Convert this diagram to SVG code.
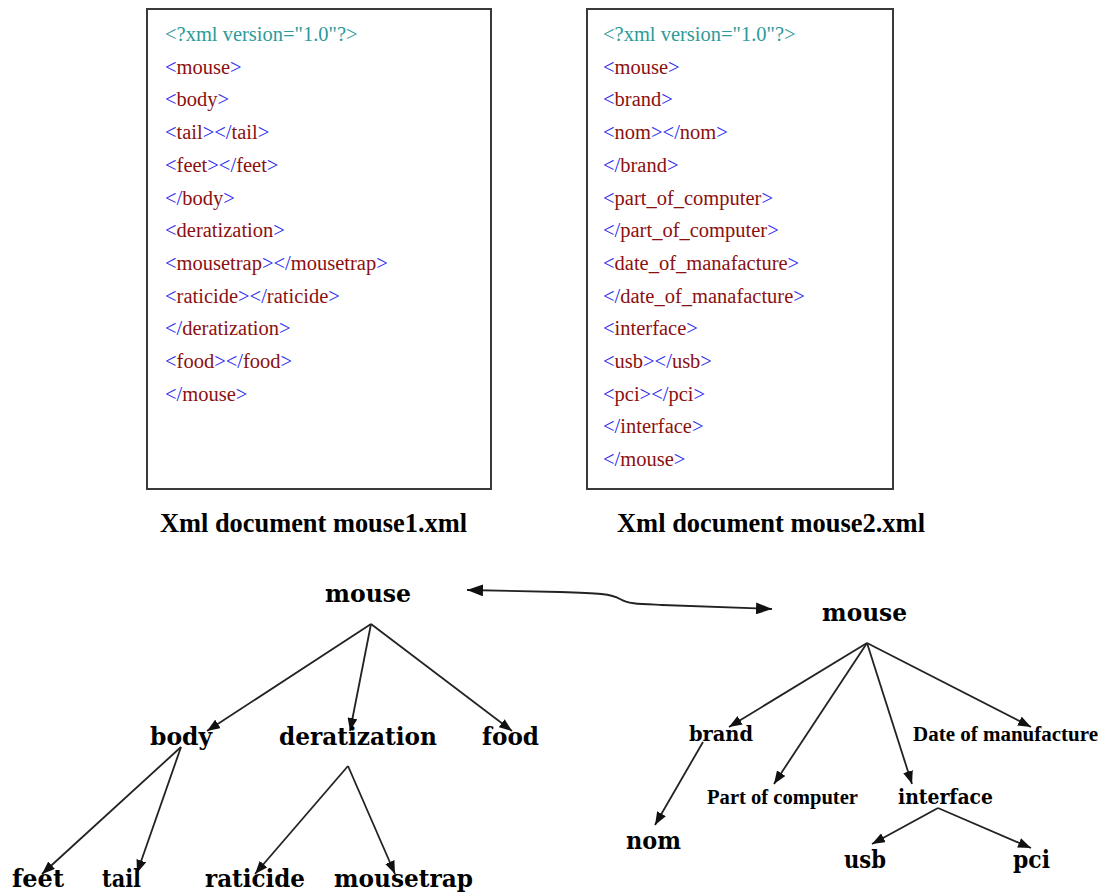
<svg xmlns="http://www.w3.org/2000/svg" width="1101" height="893" viewBox="0 0 1101 893">
  <style>
    .doc { fill: #ffffff; stroke: #3a3a3a; stroke-width: 2; }
    .code { font-family: "Liberation Serif", "Times New Roman", serif; font-size: 20.5px; }
    .decl { fill: #2e9a9a; }
    .b { fill: #2828f0; }
    .r { fill: #8b1010; }
    .cap { font-family: "Liberation Serif", "Times New Roman", serif; font-weight: bold; font-size: 28px; fill: #000; }
    .lbl { font-family: "DejaVu Serif", "Liberation Serif", serif; font-weight: bold; font-size: 24px; fill: #000; }
    .lbl-s { font-family: "DejaVu Serif", "Liberation Serif", serif; font-weight: bold; font-size: 21px; fill: #000; }
    .lbl-n { font-family: "Liberation Serif", "Times New Roman", serif; font-weight: bold; font-size: 20px; fill: #000; }
    .edge { fill: none; stroke: #222; stroke-width: 1.8; marker-end: url(#head); }
    .link { fill: none; stroke: #222; stroke-width: 1.8; marker-start: url(#bighead); marker-end: url(#bighead); }
  </style>
  <defs>
    <marker id="head" markerUnits="userSpaceOnUse" markerWidth="14" markerHeight="10" refX="13" refY="5" orient="auto">
      <path d="M0,0 L13,5 L0,10 z" fill="#111"/>
    </marker>
    <marker id="bighead" markerUnits="userSpaceOnUse" markerWidth="17" markerHeight="12" refX="16" refY="6" orient="auto-start-reverse">
      <path d="M0,0 L16,6 L0,12 z" fill="#111"/>
    </marker>
  </defs>

  <rect width="1101" height="893" fill="#ffffff"/>

  <!-- document mouse1.xml -->
  <g id="doc-mouse1">
    <rect class="doc" x="147" y="9" width="344" height="480"/>
    <g class="code">
      <text x="165" y="41" class="decl">&lt;?xml version="1.0"?&gt;</text>
      <text x="165" y="73.7"><tspan class="b">&lt;</tspan><tspan class="r">mouse</tspan><tspan class="b">&gt;</tspan></text>
      <text x="165" y="106.4"><tspan class="b">&lt;</tspan><tspan class="r">body</tspan><tspan class="b">&gt;</tspan></text>
      <text x="165" y="139.1"><tspan class="b">&lt;</tspan><tspan class="r">tail</tspan><tspan class="b">&gt;&lt;/</tspan><tspan class="r">tail</tspan><tspan class="b">&gt;</tspan></text>
      <text x="165" y="171.8"><tspan class="b">&lt;</tspan><tspan class="r">feet</tspan><tspan class="b">&gt;&lt;/</tspan><tspan class="r">feet</tspan><tspan class="b">&gt;</tspan></text>
      <text x="165" y="204.5"><tspan class="b">&lt;/</tspan><tspan class="r">body</tspan><tspan class="b">&gt;</tspan></text>
      <text x="165" y="237.2"><tspan class="b">&lt;</tspan><tspan class="r">deratization</tspan><tspan class="b">&gt;</tspan></text>
      <text x="165" y="269.9"><tspan class="b">&lt;</tspan><tspan class="r">mousetrap</tspan><tspan class="b">&gt;&lt;/</tspan><tspan class="r">mousetrap</tspan><tspan class="b">&gt;</tspan></text>
      <text x="165" y="302.6"><tspan class="b">&lt;</tspan><tspan class="r">raticide</tspan><tspan class="b">&gt;&lt;/</tspan><tspan class="r">raticide</tspan><tspan class="b">&gt;</tspan></text>
      <text x="165" y="335.3"><tspan class="b">&lt;/</tspan><tspan class="r">deratization</tspan><tspan class="b">&gt;</tspan></text>
      <text x="165" y="368"><tspan class="b">&lt;</tspan><tspan class="r">food</tspan><tspan class="b">&gt;&lt;/</tspan><tspan class="r">food</tspan><tspan class="b">&gt;</tspan></text>
      <text x="165" y="400.7"><tspan class="b">&lt;/</tspan><tspan class="r">mouse</tspan><tspan class="b">&gt;</tspan></text>
    </g>
  </g>

  <!-- document mouse2.xml -->
  <g id="doc-mouse2">
    <rect class="doc" x="587" y="9" width="306" height="480"/>
    <g class="code">
      <text x="603" y="41" class="decl">&lt;?xml version="1.0"?&gt;</text>
      <text x="603" y="73.7"><tspan class="b">&lt;</tspan><tspan class="r">mouse</tspan><tspan class="b">&gt;</tspan></text>
      <text x="603" y="106.4"><tspan class="b">&lt;</tspan><tspan class="r">brand</tspan><tspan class="b">&gt;</tspan></text>
      <text x="603" y="139.1"><tspan class="b">&lt;</tspan><tspan class="r">nom</tspan><tspan class="b">&gt;&lt;/</tspan><tspan class="r">nom</tspan><tspan class="b">&gt;</tspan></text>
      <text x="603" y="171.8"><tspan class="b">&lt;/</tspan><tspan class="r">brand</tspan><tspan class="b">&gt;</tspan></text>
      <text x="603" y="204.5"><tspan class="b">&lt;</tspan><tspan class="r">part_of_computer</tspan><tspan class="b">&gt;</tspan></text>
      <text x="603" y="237.2"><tspan class="b">&lt;/</tspan><tspan class="r">part_of_computer</tspan><tspan class="b">&gt;</tspan></text>
      <text x="603" y="269.9"><tspan class="b">&lt;</tspan><tspan class="r">date_of_manafacture</tspan><tspan class="b">&gt;</tspan></text>
      <text x="603" y="302.6"><tspan class="b">&lt;/</tspan><tspan class="r">date_of_manafacture</tspan><tspan class="b">&gt;</tspan></text>
      <text x="603" y="335.3"><tspan class="b">&lt;</tspan><tspan class="r">interface</tspan><tspan class="b">&gt;</tspan></text>
      <text x="603" y="368"><tspan class="b">&lt;</tspan><tspan class="r">usb</tspan><tspan class="b">&gt;&lt;/</tspan><tspan class="r">usb</tspan><tspan class="b">&gt;</tspan></text>
      <text x="603" y="400.7"><tspan class="b">&lt;</tspan><tspan class="r">pci</tspan><tspan class="b">&gt;&lt;/</tspan><tspan class="r">pci</tspan><tspan class="b">&gt;</tspan></text>
      <text x="603" y="433.4"><tspan class="b">&lt;/</tspan><tspan class="r">interface</tspan><tspan class="b">&gt;</tspan></text>
      <text x="603" y="466.1"><tspan class="b">&lt;/</tspan><tspan class="r">mouse</tspan><tspan class="b">&gt;</tspan></text>
    </g>
  </g>

  <!-- captions -->
  <g id="captions">
    <text class="cap" x="160" y="532" textLength="307" lengthAdjust="spacingAndGlyphs">Xml document mouse1.xml</text>
    <text class="cap" x="617" y="532" textLength="308" lengthAdjust="spacingAndGlyphs">Xml document mouse2.xml</text>
  </g>

  <!-- connectors -->
  <g id="connectors">
    <!-- tree 1 -->
    <path class="edge" d="M371,624 L207,731"/>
    <path class="edge" d="M371,624 L350,731"/>
    <path class="edge" d="M371,624 L512,731"/>
    <path class="edge" d="M181,747 L42,874"/>
    <path class="edge" d="M181,747 L137,873"/>
    <path class="edge" d="M348,766 L255,874"/>
    <path class="edge" d="M348,766 L395,874"/>
    <!-- tree 2 -->
    <path class="edge" d="M867,643 L729,727"/>
    <path class="edge" d="M867,643 L774,784"/>
    <path class="edge" d="M867,643 L912,784"/>
    <path class="edge" d="M867,643 L1031,727"/>
    <path class="edge" d="M703,742 L655,825"/>
    <path class="edge" d="M938,808 L872,844"/>
    <path class="edge" d="M938,808 L1031,848"/>
    <!-- link between the two roots -->
    <path class="link" d="M467,590 L560,592 C598,593 612,594 620,599 C628,604 640,604 662,605 L772,609"/>
  </g>

  <!-- tree for mouse1.xml -->
  <g id="t1-mouse"><text class="lbl" x="325" y="602" textLength="86" lengthAdjust="spacingAndGlyphs">mouse</text></g>
  <g id="t1-body"><text class="lbl" x="150" y="745" textLength="62" lengthAdjust="spacingAndGlyphs">body</text></g>
  <g id="t1-deratization"><text class="lbl" x="279" y="745" textLength="158" lengthAdjust="spacingAndGlyphs">deratization</text></g>
  <g id="t1-food"><text class="lbl" x="482" y="745" textLength="57" lengthAdjust="spacingAndGlyphs">food</text></g>
  <g id="t1-feet"><text class="lbl" x="12" y="887" textLength="52" lengthAdjust="spacingAndGlyphs">feet</text></g>
  <g id="t1-tail"><text class="lbl" x="102" y="887" textLength="39" lengthAdjust="spacingAndGlyphs">tail</text></g>
  <g id="t1-raticide"><text class="lbl" x="205" y="887" textLength="100" lengthAdjust="spacingAndGlyphs">raticide</text></g>
  <g id="t1-mousetrap"><text class="lbl" x="334" y="887" textLength="139" lengthAdjust="spacingAndGlyphs">mousetrap</text></g>

  <!-- tree for mouse2.xml -->
  <g id="t2-mouse"><text class="lbl" x="822" y="621" textLength="85" lengthAdjust="spacingAndGlyphs">mouse</text></g>
  <g id="t2-brand"><text class="lbl-s" x="689" y="741" textLength="64" lengthAdjust="spacingAndGlyphs">brand</text></g>
  <g id="t2-date"><text class="lbl-n" x="913" y="741" textLength="185" lengthAdjust="spacingAndGlyphs">Date of manufacture</text></g>
  <g id="t2-part"><text class="lbl-n" x="707" y="804" textLength="151" lengthAdjust="spacingAndGlyphs">Part of computer</text></g>
  <g id="t2-interface"><text class="lbl-s" x="898" y="804" textLength="95" lengthAdjust="spacingAndGlyphs">interface</text></g>
  <g id="t2-nom"><text class="lbl" x="626" y="849" textLength="55" lengthAdjust="spacingAndGlyphs">nom</text></g>
  <g id="t2-usb"><text class="lbl" x="844" y="868" textLength="42" lengthAdjust="spacingAndGlyphs">usb</text></g>
  <g id="t2-pci"><text class="lbl" x="1013" y="868" textLength="37" lengthAdjust="spacingAndGlyphs">pci</text></g>
</svg>
